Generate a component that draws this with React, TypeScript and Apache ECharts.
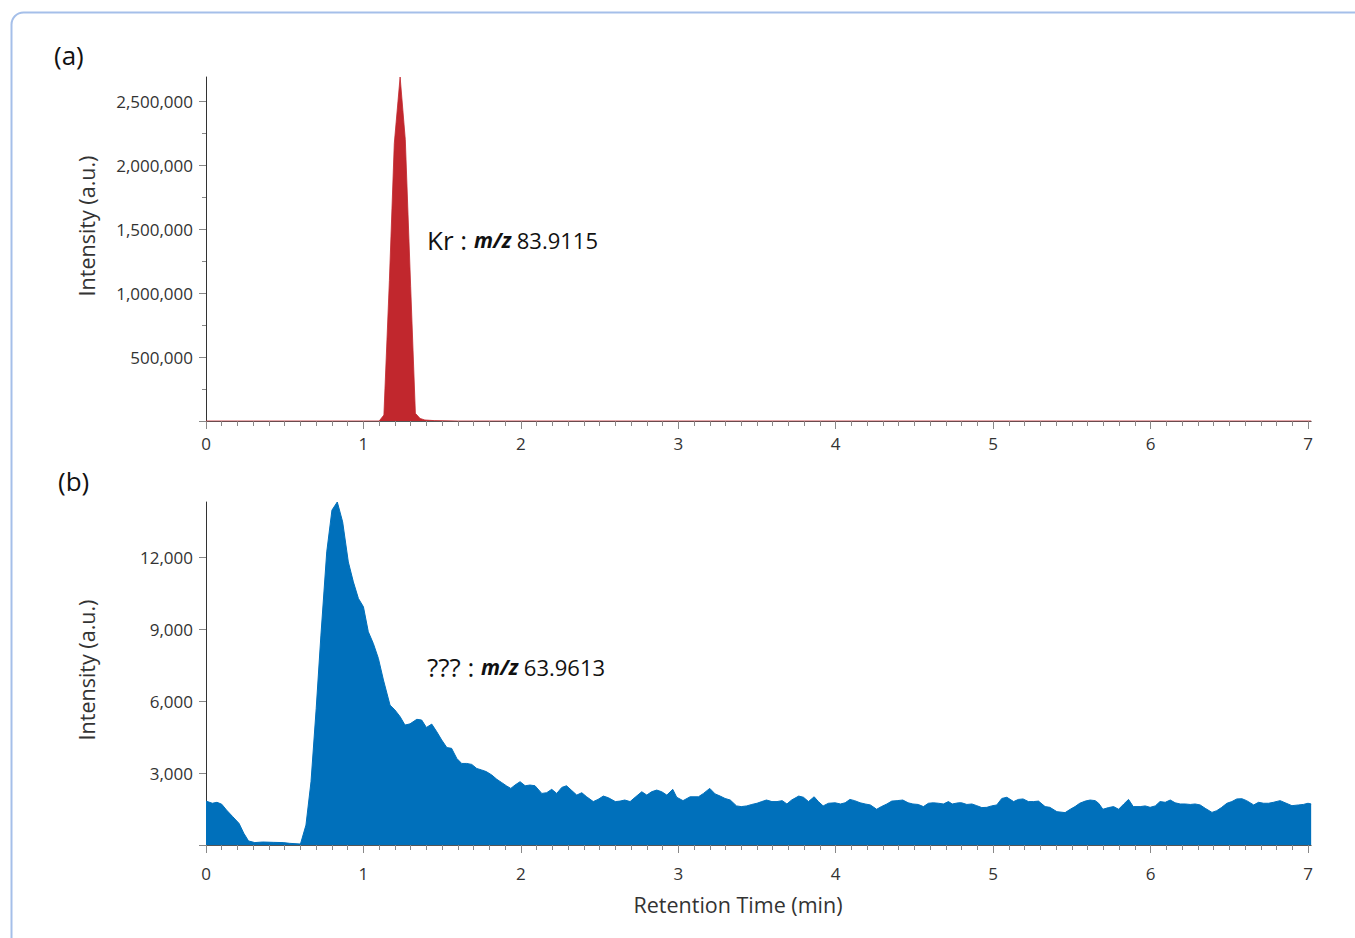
import React, { useEffect, useRef } from "react";
import * as echarts from "echarts";

// ---- Data ----
const krTimes = [0, 1.08, 1.1, 1.13, 1.165, 1.196, 1.233, 1.266, 1.3, 1.33, 1.36, 1.39, 1.45, 1.6, 7.02];
const krValues = [0, 0, 0, 47000, 1100000, 2170000, 2690000, 2200000, 1050000, 60000, 20000, 8000, 3000, 0, 0];

const unkTimes = [
  0.0, 0.04, 0.07, 0.1, 0.13, 0.17, 0.21, 0.24, 0.27, 0.31, 0.36, 0.43, 0.49, 0.53, 0.6, 0.635, 0.667, 0.7, 0.73, 0.767,
  0.8, 0.834, 0.868, 0.904, 0.936, 0.968, 1.0, 1.031, 1.063, 1.095, 1.127, 1.169, 1.2, 1.233, 1.264, 1.296, 1.339, 1.37, 1.4, 1.434,
  1.466, 1.497, 1.53, 1.56, 1.593, 1.624, 1.656, 1.688, 1.72, 1.75, 1.78, 1.815, 1.847, 1.879, 1.91, 1.936, 1.963, 1.995, 2.027, 2.058,
  2.09, 2.133, 2.164, 2.196, 2.228, 2.26, 2.29, 2.32, 2.355, 2.387, 2.418, 2.46, 2.49, 2.524, 2.556, 2.6, 2.63, 2.66, 2.694, 2.726,
  2.768, 2.8, 2.83, 2.863, 2.895, 2.927, 2.965, 2.99, 3.03, 3.075, 3.128, 3.16, 3.2, 3.234, 3.266, 3.297, 3.33, 3.37, 3.4, 3.435,
  3.467, 3.5, 3.53, 3.56, 3.595, 3.627, 3.66, 3.69, 3.72, 3.765, 3.795, 3.827, 3.863, 3.89, 3.92, 3.954, 3.996, 4.03, 4.06, 4.09,
  4.12, 4.155, 4.187, 4.22, 4.26, 4.29, 4.325, 4.356, 4.39, 4.426, 4.46, 4.49, 4.524, 4.557, 4.589, 4.62, 4.653, 4.684, 4.716, 4.74,
  4.78, 4.8, 4.833, 4.865, 4.896, 4.928, 4.96, 4.99, 5.023, 5.055, 5.087, 5.13, 5.16, 5.19, 5.224, 5.256, 5.288, 5.33, 5.36, 5.405,
  5.457, 5.49, 5.52, 5.55, 5.585, 5.616, 5.648, 5.67, 5.697, 5.733, 5.765, 5.797, 5.83, 5.86, 5.89, 5.934, 5.966, 5.997, 6.03, 6.06,
  6.093, 6.125, 6.156, 6.188, 6.22, 6.252, 6.283, 6.315, 6.347, 6.39, 6.42, 6.45, 6.485, 6.516, 6.548, 6.58, 6.61, 6.655, 6.686, 6.718,
  6.75, 6.78, 6.823, 6.855, 6.898, 6.94, 6.97, 7.0, 7.02,
];
const unkValues = [
  1830, 1740, 1780, 1700, 1460, 1180, 900, 490, 170, 100, 125, 110, 100, 70, 40, 830, 2640, 5690, 8750, 12220,
  13960, 14300, 13470, 11800, 10970, 10280, 9930, 8890, 8400, 7780, 6880, 5830, 5630, 5350, 5000, 5050, 5240, 5210, 4900, 5040,
  4720, 4380, 4060, 4030, 3610, 3400, 3400, 3360, 3190, 3130, 3060, 2920, 2740, 2600, 2460, 2360, 2500, 2640, 2470, 2500,
  2470, 2150, 2180, 2320, 2150, 2400, 2470, 2290, 2080, 2180, 2010, 1810, 1900, 2040, 1970, 1810, 1830, 1875, 1810, 1990,
  2220, 2080, 2220, 2290, 2220, 2080, 2320, 1990, 1850, 2010, 2010, 2150, 2360, 2130, 2040, 1940, 1875, 1630, 1600, 1630,
  1690, 1740, 1810, 1875, 1810, 1810, 1850, 1710, 1875, 2040, 1990, 1810, 2010, 1810, 1630, 1740, 1760, 1710, 1760, 1900,
  1850, 1760, 1710, 1670, 1490, 1600, 1710, 1830, 1850, 1875, 1760, 1710, 1690, 1600, 1740, 1760, 1740, 1710, 1810, 1710,
  1760, 1760, 1690, 1710, 1640, 1560, 1570, 1630, 1670, 1940, 1990, 1810, 1900, 1920, 1810, 1810, 1830, 1600, 1570, 1390,
  1350, 1490, 1600, 1740, 1830, 1875, 1850, 1740, 1490, 1560, 1600, 1490, 1710, 1900, 1600, 1600, 1630, 1570, 1630, 1810,
  1780, 1875, 1760, 1710, 1710, 1690, 1710, 1670, 1530, 1360, 1430, 1560, 1740, 1810, 1920, 1930, 1850, 1670, 1780, 1740,
  1740, 1780, 1850, 1760, 1640, 1670, 1690, 1740, 1710,
];

const xTickLabels = ["0", "1", "2", "3", "4", "5", "6", "7"];
const krYTicks = [500000, 1000000, 1500000, 2000000, 2500000];
const unkYTicks = [3000, 6000, 9000, 12000];

// ---- Styling / layout ----
const FONT = "'Open Sans', 'Noto Sans', sans-serif";
const RED = "#c1272d";
const BLUE = "#0070bb";
const LEFT = 206;
const UNIT = 157.43;
const X_DATA_MAX = 7.02;
const X_TICK_MAX = 7;
const TOP_BASE = 421;
const TOP_H = 344;
const KR_MAX = 2690000;
const BOT_BASE = 845;
const BOT_H = 343;
const UNK_MAX = 14300;

export default function App() {
  const ref = useRef<HTMLDivElement>(null);
  useEffect(() => {
    if (!ref.current) return;
    const chart = echarts.init(ref.current, undefined, { renderer: "svg" });

    const krTickMax = krYTicks[krYTicks.length - 1];
    const unkTickMax = unkYTicks[unkYTicks.length - 1];
    const krTickH = (TOP_H * krTickMax) / KR_MAX;
    const unkTickH = (BOT_H * unkTickMax) / UNK_MAX;

    const dataW = X_DATA_MAX * UNIT;
    const tickW = X_TICK_MAX * UNIT;

    const grids = [
      { left: LEFT, top: TOP_BASE - TOP_H, width: dataW, height: TOP_H },
      { left: LEFT, top: TOP_BASE - krTickH, width: tickW, height: krTickH },
      { left: LEFT, top: BOT_BASE - BOT_H, width: dataW, height: BOT_H },
      { left: LEFT, top: BOT_BASE - unkTickH, width: tickW, height: unkTickH },
    ].map((g) => ({ ...g, containLabel: false, outerBoundsMode: "none" }));

    const lineAxisX = (gi: number) => ({
      gridIndex: gi,
      type: "value",
      min: 0,
      max: X_DATA_MAX,
      axisLine: { show: true, onZero: false, lineStyle: { color: "#555", width: 1 } },
      axisTick: { show: false },
      axisLabel: { show: false },
      splitLine: { show: false },
    });
    const tickAxisX = (gi: number, margin: number) => ({
      gridIndex: gi,
      type: "value",
      min: 0,
      max: X_TICK_MAX,
      interval: 1,
      axisLine: { show: false, onZero: false },
      axisTick: { show: true, length: 8, lineStyle: { color: "#888", width: 1 } },
      minorTick: { show: true, splitNumber: 10, length: 5, lineStyle: { color: "#888", width: 1 } },
      axisLabel: {
        fontSize: 17,
        color: "#333",
        fontFamily: FONT,
        margin,
        formatter: (v: number) => (Number.isInteger(v) ? xTickLabels[v] ?? "" : ""),
      },
      splitLine: { show: false },
      minorSplitLine: { show: false },
    });
    const lineAxisY = (gi: number, max: number) => ({
      gridIndex: gi,
      type: "value",
      min: 0,
      max,
      axisLine: { show: true, lineStyle: { color: "#333", width: 1 } },
      axisTick: { show: false },
      axisLabel: { show: false },
      splitLine: { show: false },
    });
    const tickAxisY = (gi: number, ticks: number[], minor: boolean) => ({
      gridIndex: gi,
      type: "value",
      min: 0,
      max: ticks[ticks.length - 1],
      interval: ticks[0],
      axisLine: { show: false },
      axisTick: { show: true, length: 7, lineStyle: { color: "#888", width: 1 } },
      minorTick: { show: minor, splitNumber: 2, length: 4, lineStyle: { color: "#888", width: 1 } },
      axisLabel: {
        fontSize: 17,
        color: "#333",
        fontFamily: FONT,
        margin: 13,
        formatter: (v: number) => (ticks.includes(v) ? v.toLocaleString("en-US") : ""),
      },
      splitLine: { show: false },
      minorSplitLine: { show: false },
    });

    const krData = krTimes.map((t, i) => [t, krValues[i]]);
    const unkData = unkTimes.map((t, i) => [t, unkValues[i]]);

    const annot = (x: number, y: number, name: string, mz: string) => ({
      type: "text",
      x,
      y,
      style: {
        text: `{a|${name}\u00a0:\u00a0}{b|m/z\u00a0}{c|${mz}}`,
        verticalAlign: "middle",
        align: "left",
        rich: {
          a: { fontSize: 26, fontFamily: FONT, fill: "#111", color: "#111" },
          b: { fontSize: 21, fontFamily: FONT, fontWeight: "bold", fontStyle: "italic", fill: "#111", color: "#111" },
          c: { fontSize: 22, fontFamily: FONT, fill: "#111", color: "#111" },
        },
      },
    });

    chart.setOption({
      animation: false,
      backgroundColor: "#fff",
      grid: grids,
      xAxis: [lineAxisX(0), tickAxisX(1, 14), lineAxisX(2), tickAxisX(3, 20)],
      yAxis: [
        lineAxisY(0, KR_MAX),
        tickAxisY(1, krYTicks, true),
        lineAxisY(2, UNK_MAX),
        tickAxisY(3, unkYTicks, false),
      ],
      series: [
        {
          type: "line",
          xAxisIndex: 0,
          yAxisIndex: 0,
          data: krData,
          showSymbol: false,
          symbol: "none",
          lineStyle: { color: RED, width: 0.8 },
          itemStyle: { color: RED },
          areaStyle: { color: RED, opacity: 1 },
          z: 3,
        },
        {
          type: "line",
          xAxisIndex: 2,
          yAxisIndex: 2,
          data: unkData,
          showSymbol: false,
          symbol: "none",
          lineStyle: { color: BLUE, width: 1 },
          itemStyle: { color: BLUE },
          areaStyle: { color: BLUE, opacity: 1 },
          z: 3,
        },
      ],
      graphic: [
        {
          type: "rect",
          shape: { x: 11.5, y: 12.5, width: 1370, height: 950, r: 12 },
          style: { fill: "none", stroke: "#a5bfe9", lineWidth: 2 },
          z: -1,
        },
        { type: "text", x: 54, y: 55, style: { text: "(a)", fontSize: 26, fontFamily: FONT, fill: "#111", verticalAlign: "middle" } },
        { type: "text", x: 58, y: 481, style: { text: "(b)", fontSize: 26, fontFamily: FONT, fill: "#111", verticalAlign: "middle" } },
        {
          type: "text",
          x: 86,
          y: 226,
          rotation: Math.PI / 2,
          style: { text: "Intensity (a.u.)", fontSize: 21.5, fontFamily: FONT, fill: "#333", align: "center", verticalAlign: "middle" },
        },
        {
          type: "text",
          x: 86,
          y: 670,
          rotation: Math.PI / 2,
          style: { text: "Intensity (a.u.)", fontSize: 21.5, fontFamily: FONT, fill: "#333", align: "center", verticalAlign: "middle" },
        },
        {
          type: "text",
          x: 738,
          y: 904,
          style: { text: "Retention Time (min)", fontSize: 21.5, fontFamily: FONT, fill: "#333", align: "center", verticalAlign: "middle" },
        },
        annot(427, 240, "Kr", "83.9115"),
        annot(427, 667, "???", "63.9613"),
      ],
    });

    return () => chart.dispose();
  }, []);

  return (
    <div
      ref={ref}
      style={{ position: "absolute", left: 0, top: 0, width: 1355, height: 938, background: "#fff" }}
    />
  );
}
